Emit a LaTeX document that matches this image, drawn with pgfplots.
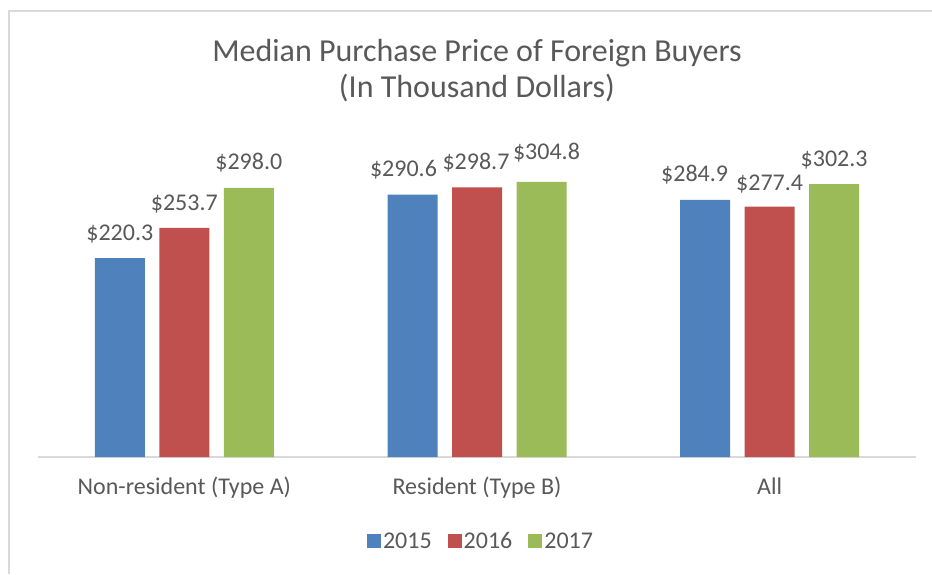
\documentclass[border=0pt]{standalone}
\usepackage{pgfplots}
\usepackage{pgfplotstable}
\pgfplotsset{compat=1.18}
\usepackage{fontspec}
\setmainfont{Carlito}
\definecolor{cblue}{RGB}{79,129,189}
\definecolor{cred}{RGB}{192,80,77}
\definecolor{cgreen}{RGB}{155,187,89}
\definecolor{txt}{RGB}{89,89,89}
\definecolor{bord}{RGB}{217,217,217}
\pgfplotstableread{
x y dx dy
0 220.3 0 18
1 290.6 -9 18.6
2 284.9 -10.5 18
}\tA
\pgfplotstableread{
x y dx dy
0 253.7 0 17
1 298.7 -1 18.3
2 277.4 0 16.5
}\tB
\pgfplotstableread{
x y dx dy
0 298.0 0 18
1 304.8 5 22.8
2 302.3 0 17.3
}\tC
\begin{document}
\begin{tikzpicture}[x=1pt,y=1pt]
\useasboundingbox (0,0) rectangle (932,574);
\fill[white] (0,0) rectangle (932,574);
\draw[bord, line width=2pt] (9,0) -- (9,563) -- (932,563);
\node[text=txt, anchor=base, inner sep=0pt, font=\fontsize{32}{39}\selectfont] at (477,512.3) {Median Purchase Price of Foreign Buyers};
\node[text=txt, anchor=base, inner sep=0pt, font=\fontsize{32}{39}\selectfont] at (477,476) {(In Thousand Dollars)};
\begin{axis}[
  at={(38pt,117pt)}, anchor=south west,
  scale only axis, width=878pt, height=316pt,
  xmin=-0.5, xmax=2.5, ymin=0, ymax=350,
  axis x line*=bottom, axis y line=none,
  x axis line style={bord, line width=1.5pt},
  xtick={0,1,2},
  xticklabels={Non-resident (Type A), Resident (Type B), All},
  major tick length=0pt,
  xticklabel style={anchor=base, yshift=-37pt, text=txt, font=\fontsize{24}{29}\selectfont},
  ybar=14.5pt, bar width=50pt,
  legend columns=3,
  legend image code/.code={\fill[#1] (0pt,-7pt) rectangle (14pt,7pt);},
  legend style={draw=none, fill=none, inner sep=0pt, outer sep=0pt,
    at={(0.5046,-0.266)}, anchor=center,
    font=\fontsize{24}{29}\selectfont, text=txt,
    /tikz/every even column/.append style={column sep=14pt}},
  lbl/.style={
    visualization depends on={\thisrow{dx}\as\ddx},
    visualization depends on={\thisrow{dy}\as\ddy},
    nodes near coords={\$\pgfmathprintnumber[fixed,fixed zerofill,precision=1,assume math mode=true]{\pgfplotspointmeta}},
    every node near coord/.append style={anchor=base, xshift=\ddx pt, yshift=\ddy pt, text=txt, font=\fontsize{24}{29}\selectfont}},
]
\addplot[fill=cblue, draw=none, lbl] table[x=x,y=y] {\tA};
\addplot[fill=cred, draw=none, lbl] table[x=x,y=y] {\tB};
\addplot[fill=cgreen, draw=none, lbl] table[x=x,y=y] {\tC};
\legend{2015,2016,2017}
\end{axis}
\end{tikzpicture}
\end{document}
